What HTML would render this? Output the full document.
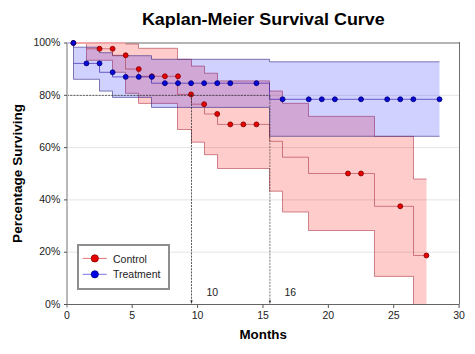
<!DOCTYPE html>
<html><head><meta charset="utf-8"><style>
html,body{margin:0;padding:0;background:#fff;width:475px;height:354px;overflow:hidden}
svg{display:block}
</style></head><body>
<svg width="475" height="354" viewBox="0 0 475 354">
<line x1="67" y1="252.20" x2="459" y2="252.20" stroke="#e4e4e4" stroke-width="1"/>
<line x1="67" y1="199.90" x2="459" y2="199.90" stroke="#e4e4e4" stroke-width="1"/>
<line x1="67" y1="147.60" x2="459" y2="147.60" stroke="#e4e4e4" stroke-width="1"/>
<line x1="67" y1="95.30" x2="459" y2="95.30" stroke="#e4e4e4" stroke-width="1"/>
<line x1="125.5" y1="43" x2="459" y2="43" stroke="#b4b4b4" stroke-width="2"/>
<line x1="459.5" y1="42" x2="459.5" y2="304" stroke="#6e6e6e" stroke-width="1"/>
<path d="M86.50,43.00 L86.50,43.00 L112.50,43.00 L112.50,43.00 L125.50,43.00 L125.50,44.00 L138.50,44.00 L138.50,48.30 L177.50,48.30 L177.50,59.30 L191.50,59.30 L191.50,66.10 L204.50,66.10 L204.50,73.20 L217.50,73.20 L217.50,80.90 L269.50,80.90 L269.50,91.00 L282.50,91.00 L282.50,103.30 L308.50,103.30 L308.50,116.40 L374.50,116.40 L374.50,136.40 L413.50,136.40 L413.50,179.00 L426.50,179.00 L426.50,304.50 L413.50,304.50 L413.50,276.40 L374.50,276.40 L374.50,230.50 L308.50,230.50 L308.50,212.00 L282.50,212.00 L282.50,191.20 L269.50,191.20 L269.50,168.50 L217.50,168.50 L217.50,154.70 L204.50,154.70 L204.50,142.20 L191.50,142.20 L191.50,129.50 L177.50,129.50 L177.50,103.40 L138.50,103.40 L138.50,93.30 L125.50,93.30 L125.50,72.30 L112.50,72.30 L112.50,60.30 L86.50,60.30 L86.50,43.00 Z" fill="rgba(255,0,0,0.2)" stroke="none"/>
<path d="M67.00,43.00 L86.50,43.00 L86.50,43.00 L112.50,43.00 L112.50,43.00 L125.50,43.00 L125.50,44.00 L138.50,44.00 L138.50,48.30 L177.50,48.30 L177.50,59.30 L191.50,59.30 L191.50,66.10 L204.50,66.10 L204.50,73.20 L217.50,73.20 L217.50,80.90 L269.50,80.90 L269.50,91.00 L282.50,91.00 L282.50,103.30 L308.50,103.30 L308.50,116.40 L374.50,116.40 L374.50,136.40 L413.50,136.40 L413.50,179.00 L426.50,179.00" fill="none" stroke="rgba(165,35,50,0.52)" stroke-width="1"/>
<path d="M86.50,43.00 L86.50,60.30 L112.50,60.30 L112.50,72.30 L125.50,72.30 L125.50,93.30 L138.50,93.30 L138.50,103.40 L177.50,103.40 L177.50,129.50 L191.50,129.50 L191.50,142.20 L204.50,142.20 L204.50,154.70 L217.50,154.70 L217.50,168.50 L269.50,168.50 L269.50,191.20 L282.50,191.20 L282.50,212.00 L308.50,212.00 L308.50,230.50 L374.50,230.50 L374.50,276.40 L413.50,276.40 L413.50,304.50 L426.50,304.50" fill="none" stroke="rgba(165,35,50,0.52)" stroke-width="1"/>
<path d="M73.50,43.00 L73.50,47.20 L99.50,47.20 L99.50,52.70 L112.50,52.70 L112.50,55.70 L151.50,55.70 L151.50,59.30 L269.50,59.30 L269.50,61.80 L439.50,61.80 L439.50,136.30 L269.50,136.30 L269.50,107.40 L151.50,107.40 L151.50,97.40 L112.50,97.40 L112.50,91.10 L99.50,91.10 L99.50,79.30 L73.50,79.30 L73.50,43.00 Z" fill="rgba(0,0,255,0.18)" stroke="none"/>
<path d="M67.00,43.00 L73.50,43.00 L73.50,47.20 L99.50,47.20 L99.50,52.70 L112.50,52.70 L112.50,55.70 L151.50,55.70 L151.50,59.30 L269.50,59.30 L269.50,61.80 L439.50,61.80" fill="none" stroke="rgba(50,40,130,0.6)" stroke-width="1"/>
<path d="M73.50,43.00 L73.50,79.30 L99.50,79.30 L99.50,91.10 L112.50,91.10 L112.50,97.40 L151.50,97.40 L151.50,107.40 L269.50,107.40 L269.50,136.30 L439.50,136.30" fill="none" stroke="rgba(50,40,130,0.6)" stroke-width="1"/>
<line x1="67" y1="43" x2="73.5" y2="43" stroke="#c8c0f0" stroke-width="2"/>
<line x1="73.5" y1="43" x2="125.5" y2="43" stroke="#eea6a6" stroke-width="2"/>
<path d="M86.50,48.80 L112.50,48.80 L112.50,55.30 L125.50,55.30 L125.50,69.10 L138.50,69.10 L138.50,76.30 L177.50,76.30 L177.50,94.40 L191.50,94.40 L191.50,104.20 L204.50,104.20 L204.50,114.00 L217.50,114.00 L217.50,124.40 L269.50,124.40 L269.50,141.30 L282.50,141.30 L282.50,157.20 L308.50,157.20 L308.50,173.50 L374.50,173.50 L374.50,206.30 L413.50,206.30 L413.50,255.50 L426.50,255.50" fill="none" stroke="rgba(165,35,50,0.52)" stroke-width="1"/>
<circle cx="73.39" cy="43" r="2.45" fill="#e60000" stroke="#8c0000" stroke-width="0.9"/>
<circle cx="99.54" cy="48.8" r="2.45" fill="#e60000" stroke="#8c0000" stroke-width="0.9"/>
<circle cx="112.61" cy="48.8" r="2.45" fill="#e60000" stroke="#8c0000" stroke-width="0.9"/>
<circle cx="125.69" cy="55.3" r="2.45" fill="#e60000" stroke="#8c0000" stroke-width="0.9"/>
<circle cx="138.76" cy="69.1" r="2.45" fill="#e60000" stroke="#8c0000" stroke-width="0.9"/>
<circle cx="151.84" cy="76.3" r="2.45" fill="#e60000" stroke="#8c0000" stroke-width="0.9"/>
<circle cx="164.91" cy="76.3" r="2.45" fill="#e60000" stroke="#8c0000" stroke-width="0.9"/>
<circle cx="177.99" cy="76.3" r="2.45" fill="#e60000" stroke="#8c0000" stroke-width="0.9"/>
<circle cx="191.06" cy="94.4" r="2.45" fill="#e60000" stroke="#8c0000" stroke-width="0.9"/>
<circle cx="204.14" cy="104.2" r="2.45" fill="#e60000" stroke="#8c0000" stroke-width="0.9"/>
<circle cx="217.21" cy="114.0" r="2.45" fill="#e60000" stroke="#8c0000" stroke-width="0.9"/>
<circle cx="230.29" cy="124.4" r="2.45" fill="#e60000" stroke="#8c0000" stroke-width="0.9"/>
<circle cx="243.36" cy="124.4" r="2.45" fill="#e60000" stroke="#8c0000" stroke-width="0.9"/>
<circle cx="256.44" cy="124.4" r="2.45" fill="#e60000" stroke="#8c0000" stroke-width="0.9"/>
<circle cx="347.96" cy="173.5" r="2.45" fill="#e60000" stroke="#8c0000" stroke-width="0.9"/>
<circle cx="361.04" cy="173.5" r="2.45" fill="#e60000" stroke="#8c0000" stroke-width="0.9"/>
<circle cx="400.26" cy="206.3" r="2.45" fill="#e60000" stroke="#8c0000" stroke-width="0.9"/>
<circle cx="426.41" cy="255.5" r="2.45" fill="#e60000" stroke="#8c0000" stroke-width="0.9"/>
<path d="M73.50,63.40 L99.50,63.40 L99.50,72.30 L112.50,72.30 L112.50,76.90 L151.50,76.90 L151.50,83.20 L269.50,83.20 L269.50,99.30 L439.50,99.30" fill="none" stroke="rgba(40,20,170,0.62)" stroke-width="1"/>
<circle cx="73.39" cy="43" r="2.45" fill="#0808d8" stroke="#000080" stroke-width="0.9"/>
<circle cx="86.46" cy="63.4" r="2.45" fill="#0808d8" stroke="#000080" stroke-width="0.9"/>
<circle cx="99.54" cy="63.4" r="2.45" fill="#0808d8" stroke="#000080" stroke-width="0.9"/>
<circle cx="112.61" cy="72.3" r="2.45" fill="#0808d8" stroke="#000080" stroke-width="0.9"/>
<circle cx="125.69" cy="76.9" r="2.45" fill="#0808d8" stroke="#000080" stroke-width="0.9"/>
<circle cx="138.76" cy="76.9" r="2.45" fill="#0808d8" stroke="#000080" stroke-width="0.9"/>
<circle cx="151.84" cy="76.9" r="2.45" fill="#0808d8" stroke="#000080" stroke-width="0.9"/>
<circle cx="164.91" cy="83.2" r="2.45" fill="#0808d8" stroke="#000080" stroke-width="0.9"/>
<circle cx="177.99" cy="83.2" r="2.45" fill="#0808d8" stroke="#000080" stroke-width="0.9"/>
<circle cx="191.06" cy="83.2" r="2.45" fill="#0808d8" stroke="#000080" stroke-width="0.9"/>
<circle cx="204.14" cy="83.2" r="2.45" fill="#0808d8" stroke="#000080" stroke-width="0.9"/>
<circle cx="217.21" cy="83.2" r="2.45" fill="#0808d8" stroke="#000080" stroke-width="0.9"/>
<circle cx="230.29" cy="83.2" r="2.45" fill="#0808d8" stroke="#000080" stroke-width="0.9"/>
<circle cx="256.44" cy="83.2" r="2.45" fill="#0808d8" stroke="#000080" stroke-width="0.9"/>
<circle cx="282.59" cy="99.3" r="2.45" fill="#0808d8" stroke="#000080" stroke-width="0.9"/>
<circle cx="308.74" cy="99.3" r="2.45" fill="#0808d8" stroke="#000080" stroke-width="0.9"/>
<circle cx="321.81" cy="99.3" r="2.45" fill="#0808d8" stroke="#000080" stroke-width="0.9"/>
<circle cx="334.89" cy="99.3" r="2.45" fill="#0808d8" stroke="#000080" stroke-width="0.9"/>
<circle cx="361.04" cy="99.3" r="2.45" fill="#0808d8" stroke="#000080" stroke-width="0.9"/>
<circle cx="387.19" cy="99.3" r="2.45" fill="#0808d8" stroke="#000080" stroke-width="0.9"/>
<circle cx="400.26" cy="99.3" r="2.45" fill="#0808d8" stroke="#000080" stroke-width="0.9"/>
<circle cx="413.34" cy="99.3" r="2.45" fill="#0808d8" stroke="#000080" stroke-width="0.9"/>
<circle cx="439.49" cy="99.3" r="2.45" fill="#0808d8" stroke="#000080" stroke-width="0.9"/>
<line x1="67" y1="95.4" x2="269.9" y2="95.4" stroke="rgba(40,40,40,0.7)" stroke-width="1" stroke-dasharray="2.1,1.06"/>
<line x1="191.5" y1="94.4" x2="191.5" y2="301" stroke="rgba(40,40,40,0.75)" stroke-width="1" stroke-dasharray="2.1,1.06"/>
<line x1="269.9" y1="95.4" x2="269.9" y2="301" stroke="rgba(40,40,40,0.6)" stroke-width="1" stroke-dasharray="2.1,1.06"/>
<path d="M190.30,300.5 L192.70,300.5 L191.50,304 Z" fill="#303030"/>
<path d="M268.70,300.5 L271.10,300.5 L269.90,304 Z" fill="#303030"/>
<text x="206.5" y="295.5" font-family='"Liberation Sans", sans-serif' font-size="10.5" fill="#222">10</text>
<text x="284.5" y="295.5" font-family='"Liberation Sans", sans-serif' font-size="10.5" fill="#222">16</text>
<line x1="67" y1="43" x2="67" y2="307.5" stroke="#b9b9b9" stroke-width="2"/>
<line x1="64" y1="304.5" x2="459.5" y2="304.5" stroke="#646464" stroke-width="1"/>
<line x1="64" y1="304.50" x2="67" y2="304.50" stroke="#505050" stroke-width="1"/>
<text x="60.3" y="307.70" text-anchor="end" font-family='"Liberation Sans", sans-serif' font-size="10.5" fill="#222">0%</text>
<line x1="64" y1="252.20" x2="67" y2="252.20" stroke="#505050" stroke-width="1"/>
<text x="60.3" y="255.40" text-anchor="end" font-family='"Liberation Sans", sans-serif' font-size="10.5" fill="#222">20%</text>
<line x1="64" y1="199.90" x2="67" y2="199.90" stroke="#505050" stroke-width="1"/>
<text x="60.3" y="203.10" text-anchor="end" font-family='"Liberation Sans", sans-serif' font-size="10.5" fill="#222">40%</text>
<line x1="64" y1="147.60" x2="67" y2="147.60" stroke="#505050" stroke-width="1"/>
<text x="60.3" y="150.80" text-anchor="end" font-family='"Liberation Sans", sans-serif' font-size="10.5" fill="#222">60%</text>
<line x1="64" y1="95.30" x2="67" y2="95.30" stroke="#505050" stroke-width="1"/>
<text x="60.3" y="98.50" text-anchor="end" font-family='"Liberation Sans", sans-serif' font-size="10.5" fill="#222">80%</text>
<line x1="64" y1="43.00" x2="67" y2="43.00" stroke="#505050" stroke-width="1"/>
<text x="60.3" y="46.20" text-anchor="end" font-family='"Liberation Sans", sans-serif' font-size="10.5" fill="#222">100%</text>
<text x="66.85" y="319.1" text-anchor="middle" font-family='"Liberation Sans", sans-serif' font-size="10.5" fill="#222">0</text>
<line x1="132.22" y1="304.5" x2="132.22" y2="308" stroke="#555" stroke-width="1"/>
<text x="132.22" y="319.1" text-anchor="middle" font-family='"Liberation Sans", sans-serif' font-size="10.5" fill="#222">5</text>
<line x1="197.60" y1="304.5" x2="197.60" y2="308" stroke="#555" stroke-width="1"/>
<text x="197.60" y="319.1" text-anchor="middle" font-family='"Liberation Sans", sans-serif' font-size="10.5" fill="#222">10</text>
<line x1="262.98" y1="304.5" x2="262.98" y2="308" stroke="#555" stroke-width="1"/>
<text x="262.98" y="319.1" text-anchor="middle" font-family='"Liberation Sans", sans-serif' font-size="10.5" fill="#222">15</text>
<line x1="328.35" y1="304.5" x2="328.35" y2="308" stroke="#555" stroke-width="1"/>
<text x="328.35" y="319.1" text-anchor="middle" font-family='"Liberation Sans", sans-serif' font-size="10.5" fill="#222">20</text>
<line x1="393.73" y1="304.5" x2="393.73" y2="308" stroke="#555" stroke-width="1"/>
<text x="393.73" y="319.1" text-anchor="middle" font-family='"Liberation Sans", sans-serif' font-size="10.5" fill="#222">25</text>
<line x1="459.10" y1="304.5" x2="459.10" y2="308" stroke="#555" stroke-width="1"/>
<text x="459.10" y="319.1" text-anchor="middle" font-family='"Liberation Sans", sans-serif' font-size="10.5" fill="#222">30</text>
<rect x="78" y="245" width="91" height="44" fill="#fff" stroke="#8e8e8e" stroke-width="2"/>
<line x1="82.7" y1="258.4" x2="106.8" y2="258.4" stroke="rgba(220,60,60,0.7)" stroke-width="1"/>
<circle cx="94.8" cy="258.4" r="3.6" fill="#e60000" stroke="#8c0000" stroke-width="0.8"/>
<line x1="82.7" y1="274.3" x2="106.8" y2="274.3" stroke="rgba(60,60,220,0.7)" stroke-width="1"/>
<circle cx="94.8" cy="274.3" r="3.6" fill="#0000e6" stroke="#00008c" stroke-width="0.8"/>
<text x="113" y="262.6" font-family='"Liberation Sans", sans-serif' font-size="10.5" fill="#222">Control</text>
<text x="113" y="278.3" font-family='"Liberation Sans", sans-serif' font-size="10.5" fill="#222">Treatment</text>
<text transform="translate(263.3,24.9) scale(1.054,1)" x="0" y="0" text-anchor="middle" font-family='"Liberation Sans", sans-serif' font-size="17" font-weight="bold" fill="#000">Kaplan-Meier Survival Curve</text>
<text x="263.2" y="338.9" text-anchor="middle" font-family='"Liberation Sans", sans-serif' font-size="13.33" font-weight="bold" fill="#000">Months</text>
<text transform="translate(21.9,173.4) rotate(-90)" x="0" y="0" text-anchor="middle" font-family='"Liberation Sans", sans-serif' font-size="13.6" font-weight="bold" fill="#000">Percentage Surviving</text>
</svg>
</body></html>
